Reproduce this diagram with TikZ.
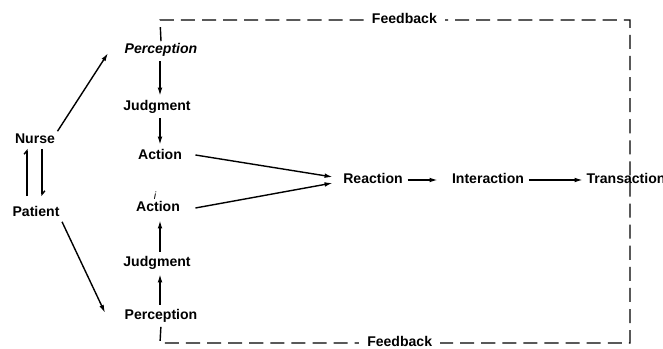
\documentclass[tikz,border=0pt]{standalone}
\usepackage{fontspec}
\setmainfont{Liberation Sans}
\usetikzlibrary{arrows.meta,calc}

\begin{document}
\begin{tikzpicture}[x=0.03cm,y=-0.03cm,
    every node/.style={font=\bfseries\fontsize{12}{14}\selectfont, inner sep=2pt,
      text height=1.6ex, text depth=.4ex},
    link/.style={line width=1.2pt, -{Latex[length=7pt,width=4pt]}},
    exchange/.style={line width=1.2pt, -{Straight Barb[left,length=3pt,width=5pt]}},
    feedback/.style={line width=1.2pt, dash pattern=on 12pt off 6pt}]
  \useasboundingbox (0,0) rectangle (663,349);

  \node (nurse) at (35,140) {Nurse};
  \node (patient) at (36,213) {Patient};

  \node[font=\bfseries\itshape\fontsize{12}{14}\selectfont] (ptop) at (161,50) {Perception};
  \node (jtop) at (157,107) {Judgment};
  \node (atop) at (160,156) {Action};

  \node (abot) at (158,208) {Action};
  \node[font=\itshape\fontsize{9}{10}\selectfont] (itick) at (155,196) {i};
  \node (jbot) at (157,263) {Judgment};
  \node (pbot) at (161,316) {Perception};

  \node (reaction) at (373,180) {Reaction};
  \node (interaction) at (488,180) {Interaction};
  \node[anchor=west] (transaction) at (584,180) {Transaction};

  % % corners of the feedback loop
  \coordinate (fbtl) at (160,20);
  \coordinate (fbtr) at (630,20);
  \coordinate (fbbr) at (630,343);
  \coordinate (fbbl) at (160,343);

  \draw[exchange] ($(patient.north)+(-9,-8)$) -- ($(nurse.south)+(-8,0)$);
  \draw[exchange] ($(nurse.south)+(7,0)$) -- ($(patient.north)+(6,-8)$);

  \draw[link] (nurse.north east) -- ($(ptop.west)+(-14,3)$);
  \draw[link] (patient.south east) -- ($(pbot.west)+(-17,-3)$);

  \draw[link,shorten <=2pt,shorten >=2pt] (atop.north |- ptop.south) -- (atop.north |- jtop.north);
  \draw[link,shorten <=2pt,shorten >=2pt] (atop.north |- jtop.south) -- (atop.north);
  \draw[link,shorten <=2pt,shorten >=2pt] (atop.south |- pbot.north) -- (atop.south |- jbot.south);
  \draw[link,shorten <=2pt,shorten >=3pt] (atop.south |- jbot.north) -- (atop.south |- abot.south);

  \draw[link] ($(atop.east)+(11,-1)$) -- ($(reaction.west)+(-8,-3)$);
  \draw[link] ($(abot.east)+(13,0)$) -- ($(reaction.west)+(-8,3)$);
  \draw[link,shorten <=2pt,shorten >=10pt] (reaction) -- (interaction);
  \draw[link,shorten <=2pt,shorten >=1pt] (interaction) -- (transaction);

  \draw[feedback] (ptop.north) -- (fbtl)
    -- node[pos=.52,fill=white,inner xsep=7pt] {Feedback} (fbtr) -- (fbbr)
    -- node[pos=.49,fill=white,inner xsep=7pt] {Feedback} (fbbl) -- (pbot.south);
\end{tikzpicture}
\end{document}
